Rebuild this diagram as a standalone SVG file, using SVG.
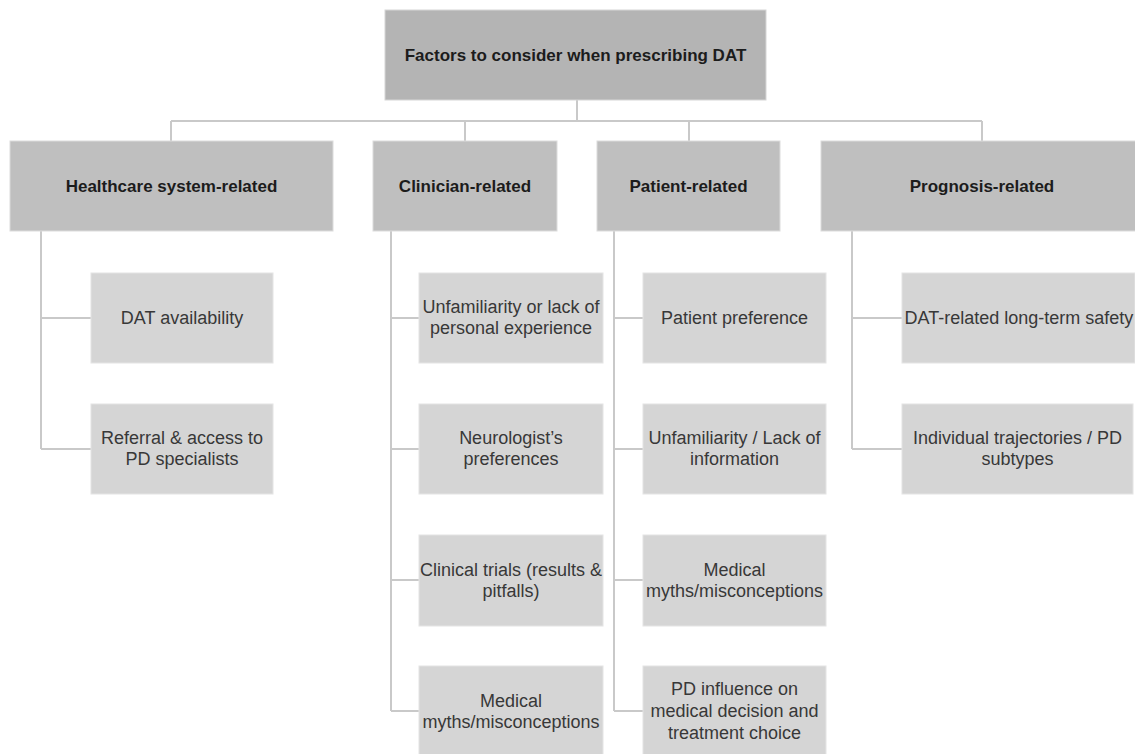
<svg xmlns="http://www.w3.org/2000/svg" width="1135" height="754" viewBox="0 0 1135 754">
<style>
.top{fill:#b4b4b4;stroke:#d6d6d6;stroke-width:1}
.hdr{fill:#bfbfbf;stroke:#dcdcdc;stroke-width:1}
.leaf{fill:#d5d5d5;stroke:#e4e4e4;stroke-width:1}
.b{font-family:"Liberation Sans",Arial,sans-serif;font-weight:bold;font-size:17px;fill:#1c1c1c;text-anchor:middle}
.t{font-family:"Liberation Sans",Arial,sans-serif;font-size:18px;fill:#383838;text-anchor:middle}
.c{fill:none;stroke:#c9c9c9;stroke-width:2}
</style>
<rect width="1135" height="754" fill="#ffffff"/>
<g id="connectors" class="c">
<path d="M577 100V121M171 121H982M171 121V141M465 121V141M689 121V141M982 121V141"/>
<path d="M41 231V449M41 318H91M41 449H91"/>
<path d="M391 231V711M391 318H419M391 449H419M391 580H419M391 711H419"/>
<path d="M614 231V711M614 318H643M614 449H643M614 580H643M614 711H643"/>
<path d="M852 231V449M852 318H902M852 449H902"/>
</g>
<g id="root"><rect class="top" x="385" y="10" width="381" height="90"/><text class="b" x="575.5" y="61">Factors to consider when prescribing DAT</text></g>
<g id="h-healthcare"><rect class="hdr" x="10" y="141" width="323" height="90"/><text class="b" x="171.5" y="192">Healthcare system-related</text></g>
<g id="h-clinician"><rect class="hdr" x="373" y="141" width="184" height="90"/><text class="b" x="465" y="192">Clinician-related</text></g>
<g id="h-patient"><rect class="hdr" x="597" y="141" width="183" height="90"/><text class="b" x="688.5" y="192">Patient-related</text></g>
<g id="h-prognosis"><rect class="hdr" x="821" y="141" width="322" height="90"/><text class="b" x="982" y="192">Prognosis-related</text></g>

<g id="hc1"><rect class="leaf" x="91" y="273" width="182" height="90"/><text class="t" x="182" y="324">DAT availability</text></g>
<g id="hc2"><rect class="leaf" x="91" y="404" width="182" height="90"/><text class="t" x="182" y="444">Referral &amp; access to</text><text class="t" x="182" y="465">PD specialists</text></g>

<g id="cl1"><rect class="leaf" x="419" y="273" width="184" height="90"/><text class="t" x="511" y="313">Unfamiliarity or lack of</text><text class="t" x="511" y="334">personal experience</text></g>
<g id="cl2"><rect class="leaf" x="419" y="404" width="184" height="90"/><text class="t" x="511" y="444">Neurologist’s</text><text class="t" x="511" y="465">preferences</text></g>
<g id="cl3"><rect class="leaf" x="419" y="535" width="184" height="91"/><text class="t" x="511" y="576">Clinical trials (results &amp;</text><text class="t" x="511" y="597">pitfalls)</text></g>
<g id="cl4"><rect class="leaf" x="419" y="666" width="184" height="91"/><text class="t" x="511" y="707">Medical</text><text class="t" x="511" y="728">myths/misconceptions</text></g>

<g id="pt1"><rect class="leaf" x="643" y="273" width="183" height="90"/><text class="t" x="734.5" y="324">Patient preference</text></g>
<g id="pt2"><rect class="leaf" x="643" y="404" width="183" height="90"/><text class="t" x="734.5" y="444">Unfamiliarity / Lack of</text><text class="t" x="734.5" y="465">information</text></g>
<g id="pt3"><rect class="leaf" x="643" y="535" width="183" height="91"/><text class="t" x="734.5" y="576">Medical</text><text class="t" x="734.5" y="597">myths/misconceptions</text></g>
<g id="pt4"><rect class="leaf" x="643" y="666" width="183" height="91"/><text class="t" x="734.5" y="695">PD influence on</text><text class="t" x="734.5" y="717">medical decision and</text><text class="t" x="734.5" y="739">treatment choice</text></g>

<g id="pr1"><rect class="leaf" x="902" y="273" width="233" height="90"/><text class="t" x="1019" y="324">DAT-related long-term safety</text></g>
<g id="pr2"><rect class="leaf" x="902" y="404" width="231" height="90"/><text class="t" x="1017.5" y="444">Individual trajectories / PD</text><text class="t" x="1017.5" y="465">subtypes</text></g>
</svg>
